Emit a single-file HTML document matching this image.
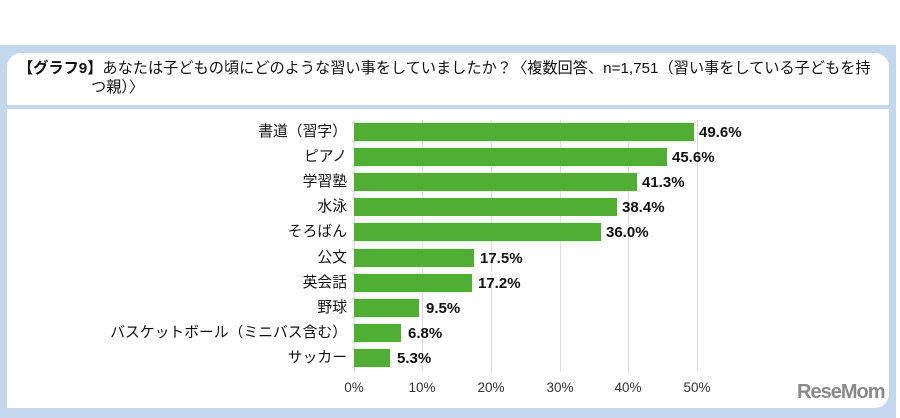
<!DOCTYPE html><html><head><meta charset="utf-8"><style>
body{margin:0;width:900px;height:418px;background:#fff;position:relative;overflow:hidden;font-family:"Liberation Sans","Noto Sans CJK JP",sans-serif}
.frame{position:absolute;left:0;top:45px;width:896px;height:373px;background:#c3d8ec}
.t{position:absolute;left:7px;top:53px;width:882px;height:52px;background:#fff;border-radius:14px 14px 0 0}
.c{position:absolute;left:7px;top:109px;width:882px;height:299px;background:#fff;border-radius:0 0 14px 0}
.title{position:absolute;left:18px;top:59px;font-size:15.2px;line-height:19px;color:#111;width:870px;white-space:nowrap}
.lab{position:absolute;right:553px;font-size:14.8px;color:#111;white-space:nowrap;line-height:18px}
.bar{position:absolute;left:354px;height:18px;background:#50ae35}
.val{position:absolute;font-size:15px;font-weight:bold;color:#111;line-height:18px}
.g{position:absolute;top:120px;width:1px;height:252px;background:#ddd}
.tk{position:absolute;top:380px;font-size:13.5px;color:#333;transform:translateX(-50%)}
</style></head><body>
<div class="frame"></div><div class="t"></div><div class="c"></div>
<div class="title"><b>【グラフ9】</b>あなたは子どもの頃にどのような習い事をしていましたか？〈複数回答、n=1,751（習い事をしている子どもを持<br><span style="padding-left:73px">つ親）〉</span></div>
<div class="g" style="left:354px"></div><div class="g" style="left:422px"></div><div class="g" style="left:491px"></div><div class="g" style="left:560px"></div><div class="g" style="left:628px"></div><div class="g" style="left:697px"></div>
<div class="tk" style="left:354px">0%</div><div class="tk" style="left:422px">10%</div><div class="tk" style="left:491px">20%</div><div class="tk" style="left:560px">30%</div><div class="tk" style="left:628px">40%</div><div class="tk" style="left:697px">50%</div>
<div class="lab" style="top:123px">書道（習字）</div><div class="bar" style="top:123px;width:340px"></div><div class="val" style="top:124px;left:699px">49.6%</div>
<div class="lab" style="top:148px">ピアノ</div><div class="bar" style="top:148px;width:313px"></div><div class="val" style="top:149px;left:672px">45.6%</div>
<div class="lab" style="top:173px">学習塾</div><div class="bar" style="top:173px;width:283px"></div><div class="val" style="top:174px;left:642px">41.3%</div>
<div class="lab" style="top:198px">水泳</div><div class="bar" style="top:198px;width:263px"></div><div class="val" style="top:199px;left:622px">38.4%</div>
<div class="lab" style="top:223px">そろばん</div><div class="bar" style="top:223px;width:247px"></div><div class="val" style="top:224px;left:606px">36.0%</div>
<div class="lab" style="top:249px">公文</div><div class="bar" style="top:249px;width:120px"></div><div class="val" style="top:250px;left:480px">17.5%</div>
<div class="lab" style="top:274px">英会話</div><div class="bar" style="top:274px;width:118px"></div><div class="val" style="top:275px;left:478px">17.2%</div>
<div class="lab" style="top:299px">野球</div><div class="bar" style="top:299px;width:65px"></div><div class="val" style="top:300px;left:426px">9.5%</div>
<div class="lab" style="top:324px">バスケットボール（ミニバス含む）</div><div class="bar" style="top:324px;width:47px"></div><div class="val" style="top:325px;left:408px">6.8%</div>
<div class="lab" style="top:349px">サッカー</div><div class="bar" style="top:349px;width:36px"></div><div class="val" style="top:350px;left:397px">5.3%</div>
<div style="position:absolute;left:797px;top:381px;font-size:20px;font-weight:bold;color:#8a8a8a;letter-spacing:-1px">ReseMom</div>
</body></html>
